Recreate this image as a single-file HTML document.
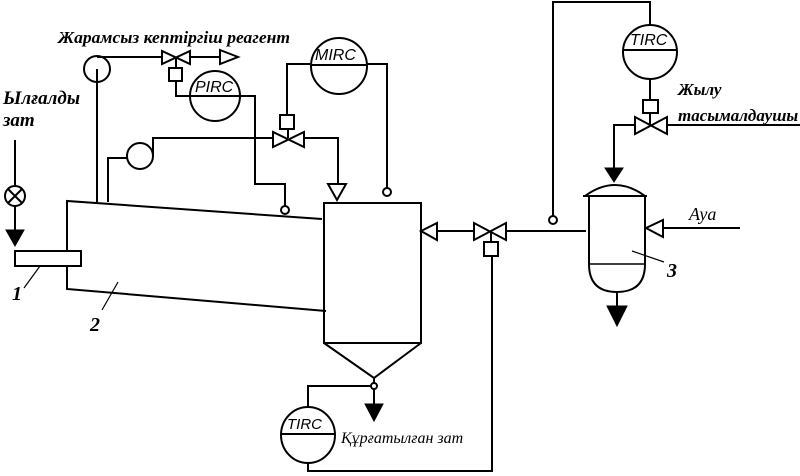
<!DOCTYPE html>
<html><head><meta charset="utf-8"><style>
html,body{margin:0;padding:0;background:#fff;}
svg{display:block;}
text{font-family:"Liberation Serif",serif;font-style:italic;}
</style></head><body>
<svg width="800" height="476" viewBox="0 0 800 476" xmlns="http://www.w3.org/2000/svg">
<g fill="none" stroke="#000" stroke-width="2">
<line x1="15" y1="140" x2="15" y2="185"/>
<circle cx="15" cy="196" r="10"/>
<line x1="8" y1="189" x2="22" y2="203"/><line x1="22" y1="189" x2="8" y2="203"/>
<line x1="15" y1="206" x2="15" y2="232"/>
<rect x="15" y="251" width="66" height="15"/>
<polyline points="67,251 67,201 322,219"/>
<polyline points="67,266 67,289 326,311"/>
<line x1="40" y1="266" x2="24" y2="288" stroke-width="1.2"/>
<line x1="118" y1="282" x2="102" y2="310" stroke-width="1.2"/>
<rect x="324" y="203" width="97" height="140"/>
<polyline points="324,343 374,378 421,343"/>
<line x1="374" y1="378" x2="374" y2="383"/>
<circle cx="374" cy="386" r="3"/>
<line x1="374" y1="389" x2="374" y2="408"/>
<polyline points="371,386 308,386 308,407"/>
<ellipse cx="308" cy="435" rx="27" ry="28"/>
<line x1="281" y1="434" x2="335" y2="434"/>
<polyline points="308,463 308,471 492,471 492,257"/>
<rect x="484" y="242" width="14" height="14"/>
<line x1="491" y1="242" x2="491" y2="232"/>
<line x1="437" y1="231" x2="474" y2="231"/>
<polygon points="474,223 474,240 506,223 506,240"/>
<line x1="506" y1="231" x2="586" y2="231"/>
<polygon points="421,231 437,223 437,240"/>
<circle cx="97" cy="69" r="13"/>
<line x1="97" y1="69" x2="97" y2="202"/>
<line x1="97" y1="57" x2="162" y2="57"/>
<polygon points="162,51 162,64 190,51 190,64"/>
<line x1="190" y1="57" x2="220" y2="57"/>
<polygon points="220,50 238,57 220,64"/>
<line x1="176" y1="57" x2="176" y2="68"/>
<rect x="169" y="68" width="13" height="13"/>
<polyline points="176,81 176,96 255,96 255,184 285,184 285,206"/>
<circle cx="285" cy="210" r="4"/>
<circle cx="215" cy="96" r="25"/>
<circle cx="140" cy="156" r="13"/>
<polyline points="108,202 108,158 127,158"/>
<polyline points="153,156 153,138 273,138"/>
<polygon points="273,132 273,147 304,132 304,147"/>
<polyline points="304,138 338,138 338,184"/>
<polygon points="328,184 346,184 337,200"/>
<line x1="288" y1="138" x2="288" y2="129"/>
<rect x="280" y="115" width="14" height="14"/>
<polyline points="287,115 287,64 310,64"/>
<circle cx="339" cy="66" r="28"/>
<line x1="311" y1="65" x2="367" y2="65"/>
<polyline points="367,64 387,64 387,188"/>
<circle cx="387" cy="192" r="4"/>
<polyline points="553,216 553,2 650,2 650,26"/>
<circle cx="553" cy="220" r="4"/>
<circle cx="650" cy="52" r="27"/>
<line x1="623" y1="50" x2="677" y2="50"/>
<line x1="650" y1="79" x2="650" y2="100"/>
<rect x="643" y="100" width="15" height="13"/>
<line x1="650" y1="113" x2="650" y2="125"/>
<polygon points="635,117 635,134 667,117 667,134"/>
<line x1="667" y1="125" x2="800" y2="125"/>
<polyline points="635,125 614,125 614,170"/>
<path d="M585,196 Q615,174 645,196"/>
<line x1="583" y1="196" x2="647" y2="196"/>
<path d="M589,196 L589,264 Q589,292 617,292 Q645,292 645,264 L645,196"/>
<line x1="589" y1="264" x2="645" y2="264" stroke-width="1.5"/>
<line x1="617" y1="292" x2="617" y2="308"/>
<line x1="632" y1="251" x2="664" y2="262" stroke-width="1.2"/>
<polygon points="646,228 663,220 663,237"/>
<line x1="663" y1="228" x2="740" y2="228"/>
</g>
<g fill="#000" stroke="#000">
<polygon points="6,230 24,230 15,246"/>
<polygon points="365,404 383,404 374,421"/>
<polygon points="605,168 623,168 614,182"/>
<polygon points="607,306 627,306 617,326"/>
</g>
<g fill="#000" font-size="17" font-weight="bold">
<text x="58" y="43" textLength="232" lengthAdjust="spacingAndGlyphs">Жарамсыз кептіргіш реагент</text>
<text x="3" y="104" font-size="19">Ылғалды</text>
<text x="3" y="126" font-size="19">зат</text>
<text x="678" y="95">Жылу</text>
<text x="678" y="121">тасымалдаушы</text>
</g>
<g fill="#000" font-size="18">
<text x="689" y="220">Ауа</text>
<text x="341" y="443" font-size="16">Құрғатылған зат</text>
<text x="12" y="300" font-weight="bold" font-size="20">1</text>
<text x="90" y="331" font-weight="bold" font-size="20">2</text>
<text x="667" y="277" font-weight="bold" font-size="20">3</text>
</g>
<g fill="#000" font-size="16">
<text x="195" y="92" style="font-family:'Liberation Sans',sans-serif">PIRC</text>
<text x="315" y="60" style="font-family:'Liberation Sans',sans-serif">MIRC</text>
<text x="630" y="45" style="font-family:'Liberation Sans',sans-serif">TIRC</text>
<text x="287" y="429" font-size="15" style="font-family:'Liberation Sans',sans-serif">TIRC</text>
</g>
</svg>
</body></html>
